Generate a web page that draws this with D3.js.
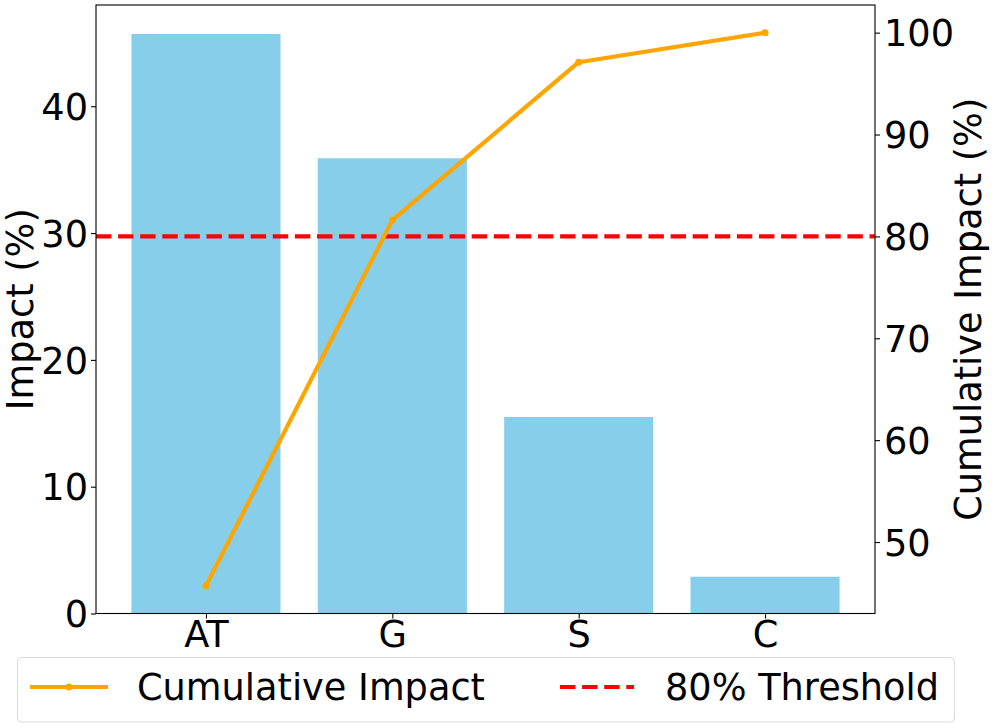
<!DOCTYPE html>
<html><head><meta charset="utf-8">
<script src="https://cdn.jsdelivr.net/npm/d3@7"></script>
<style>body{margin:0;background:#fff}svg{display:block}text{font-family:"DejaVu Sans",sans-serif;fill:#000}</style>
</head><body><svg id="c" width="996" height="728"></svg>
<script>
const categories = ["AT", "G", "S", "C"];
const impact = [45.7, 35.9, 15.5, 2.9];
const cumulative = [45.7, 81.6, 97.1, 100.0];
const threshold = 80;
const leftTicks = [0, 10, 20, 30, 40];
const rightTicks = [50, 60, 70, 80, 90, 100];
const seriesNames = ["Cumulative Impact", "80% Threshold"];

const svg = d3.select("#c");
const L = 96, R = 875, T = 5, B = 613.5;
const FS = 36.7;

const x = d3.scaleLinear().domain([-0.59, 3.59]).range([L, R]);
const yL = d3.scaleLinear().domain([0, d3.max(impact) * 1.05]).range([B, T]);
const cmin = d3.min(cumulative), cmax = d3.max(cumulative), pad = (cmax - cmin) * 0.05;
const yR = d3.scaleLinear().domain([cmin - pad, cmax + pad]).range([B, T]);

// bars
svg.append("g").selectAll("rect").data(impact).join("rect")
  .attr("x", (d, i) => x(i - 0.4)).attr("width", x(0.8) - x(0))
  .attr("y", d => yL(d)).attr("height", d => B - yL(d))
  .attr("fill", "#87CEEB");

// threshold
svg.append("line").attr("x1", L).attr("x2", R)
  .attr("y1", yR(threshold)).attr("y2", yR(threshold))
  .attr("stroke", "#ff0000").attr("stroke-width", 4.2).attr("stroke-dasharray", "15.4,6.7");

// cumulative line
const line = d3.line().x((d, i) => x(i)).y(d => yR(d));
svg.append("path").datum(cumulative).attr("d", line)
  .attr("fill", "none").attr("stroke", "#FFA500").attr("stroke-width", 4.2).attr("stroke-linejoin", "round");
svg.append("g").selectAll("circle").data(cumulative).join("circle")
  .attr("cx", (d, i) => x(i)).attr("cy", d => yR(d)).attr("r", 3.5).attr("fill", "#FFA500");

// frame
svg.append("rect").attr("x", L).attr("y", T).attr("width", R - L).attr("height", B - T)
  .attr("fill", "none").attr("stroke", "#000").attr("stroke-width", 1.1);

// axes
const axL = svg.append("g").attr("transform", `translate(${L},0)`)
  .call(d3.axisLeft(yL).tickValues(leftTicks).tickSize(5).tickPadding(3));
const axR = svg.append("g").attr("transform", `translate(${R},0)`)
  .call(d3.axisRight(yR).tickValues(rightTicks).tickSize(5).tickPadding(4));
const axB = svg.append("g").attr("transform", `translate(0,${B})`)
  .call(d3.axisBottom(x).tickValues(d3.range(categories.length)).tickFormat(i => categories[i]).tickSize(5).tickPadding(5));
[axL, axR, axB].forEach(a => {
  a.select(".domain").remove();
  a.selectAll("line").attr("stroke", "#000").attr("stroke-width", 1.1);
  a.selectAll("text").attr("font-size", FS).attr("font-family", "DejaVu Sans").attr("fill", "#000");
});
axL.selectAll("text").attr("dy", "0.36em");
axR.selectAll("text").attr("dy", "0.36em");
axB.selectAll("text").attr("dy", "0.64em");

// axis labels
svg.append("text").attr("transform", `translate(33,${(T + B) / 2}) rotate(-90)`)
  .attr("text-anchor", "middle").attr("font-size", FS).text("Impact (%)");
svg.append("text").attr("transform", `translate(981,${(T + B) / 2}) rotate(-90)`)
  .attr("text-anchor", "middle").attr("font-size", FS).text("Cumulative Impact (%)");

// legend
const lg = svg.append("g");
lg.append("rect").attr("x", 17.5).attr("y", 657.5).attr("width", 937).attr("height", 64.5)
  .attr("rx", 4).attr("fill", "#fff").attr("fill-opacity", 0.8).attr("stroke", "#d9d9d9").attr("stroke-width", 1);
const ly = 687;
lg.append("line").attr("x1", 30).attr("x2", 108).attr("y1", ly).attr("y2", ly)
  .attr("stroke", "#FFA500").attr("stroke-width", 4.2);
lg.append("circle").attr("cx", 69).attr("cy", ly).attr("r", 3.5).attr("fill", "#FFA500");
lg.append("text").attr("x", 137).attr("y", ly).attr("dy", "0.36em").attr("font-size", FS).text(seriesNames[0]);
lg.append("line").attr("x1", 560).attr("x2", 634).attr("y1", ly).attr("y2", ly)
  .attr("stroke", "#ff0000").attr("stroke-width", 4.2).attr("stroke-dasharray", "15.4,6.7");
lg.append("text").attr("x", 665).attr("y", ly).attr("dy", "0.36em").attr("font-size", FS).text(seriesNames[1]);
</script></body></html>
